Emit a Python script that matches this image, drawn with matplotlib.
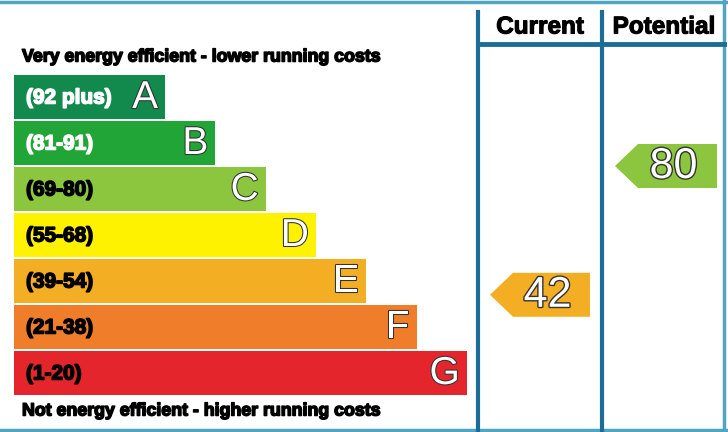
import matplotlib.pyplot as plt
from matplotlib.patches import Polygon
import matplotlib.patheffects as pe

# EPC bands
letters = ["A", "B", "C", "D", "E", "F", "G"]
ranges = ["(92 plus)", "(81-91)", "(69-80)", "(55-68)", "(39-54)", "(21-38)", "(1-20)"]
band_lo = [92, 81, 69, 55, 39, 21, 1]
band_hi = [100, 91, 80, 68, 54, 38, 20]
colors = ["#12894d", "#22a537", "#8cc63e", "#fff200", "#f4ae23", "#ef7d2a", "#e4262c"]
label_colors = ["white", "white", "black", "black", "black", "black", "black"]

current = 42
potential = 80

plt.rcParams['font.family'] = ['Liberation Sans', 'DejaVu Sans']

fig = plt.figure(figsize=(7.28, 4.32), dpi=100)
ax = fig.add_axes([0, 0, 1, 1])
ax.set_xlim(0, 728)
ax.set_ylim(432, 0)
ax.axis("off")

# layout (pixels)
top = 75
step = 46
bar_h = 44
left = 14
w0 = 151
dw = 50.3
line_col = "#1b6d95"
border_col = "#4fa5c2"

ys = [top + step * i + bar_h / 2 for i in range(len(letters))]
widths = [w0 + dw * i for i in range(len(letters))]
ax.barh(ys, widths, left=left, height=bar_h, color=colors)

outline = [pe.withStroke(linewidth=1.5, foreground="#333333")]
for i in range(len(letters)):
    ax.text(left + 12, ys[i] + 1, ranges[i], ha="left", va="center",
            fontsize=15, fontweight="bold", color=label_colors[i],
            path_effects=[pe.withStroke(linewidth=1.1, foreground=label_colors[i])])
    ax.text(left + widths[i] - 7, ys[i] + 1, letters[i], ha="right", va="center",
            fontsize=28, color="white", path_effects=outline)

heavy = [pe.withStroke(linewidth=1.1, foreground="black")]
ax.text(22, 57, "Very energy efficient - lower running costs", ha="left", va="center",
        fontsize=12.8, fontweight="bold", color="black", path_effects=heavy)
ax.text(22, 411, "Not energy efficient - higher running costs", ha="left", va="center",
        fontsize=12.8, fontweight="bold", color="black", path_effects=heavy)

# frame and columns
ax.plot([0, 728], [2, 2], color=border_col, lw=2.5)
ax.plot([0, 728], [430, 430], color=border_col, lw=2.5)
ax.plot([724, 724], [0, 432], color=border_col, lw=2.5)
for x in (478, 602):
    ax.plot([x, x], [12, 432], color=line_col, lw=3)
ax.plot([478, 724], [44, 44], color=line_col, lw=3.5)

ax.text(540, 27, "Current", ha="center", va="center", fontsize=17.5, fontweight="bold",
        path_effects=[pe.withStroke(linewidth=0.8, foreground="black")])
ax.text(664, 27, "Potential", ha="center", va="center", fontsize=17.5, fontweight="bold",
        path_effects=[pe.withStroke(linewidth=0.8, foreground="black")])


def band_of(v):
    for i in range(len(letters)):
        if band_lo[i] <= v <= band_hi[i]:
            return i
    return len(letters) - 1


def arrow(v, x0, x1):
    i = band_of(v)
    frac = (v - band_lo[i]) / max(band_hi[i] - band_lo[i], 1)
    yc = top + step * (i + 1) - 1 - frac * step
    h = bar_h / 2
    pts = [(x0, yc), (x0 + 23, yc - h), (x1, yc - h), (x1, yc + h), (x0 + 23, yc + h)]
    ax.add_patch(Polygon(pts, closed=True, color=colors[i], lw=0))
    ax.text((x0 + 23 + x1) / 2 - 4, yc + 1, str(v), ha="center", va="center",
            fontsize=31, color="white",
            path_effects=[pe.withStroke(linewidth=2, foreground="#333333")])


arrow(current, 490, 590)
arrow(potential, 615, 717)

fig.savefig("out.png", dpi=100)
